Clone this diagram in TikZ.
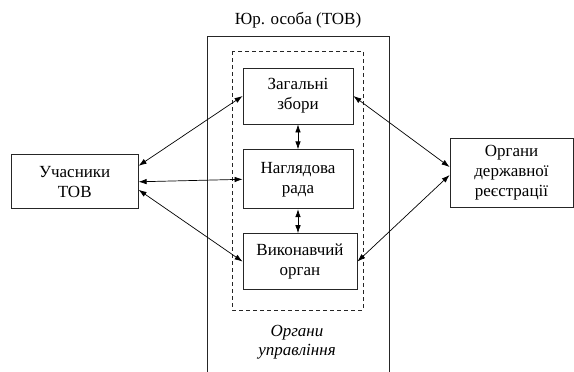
\documentclass[tikz,border=0pt]{standalone}
\usepackage{fontspec}
\setmainfont{Liberation Serif}
\usetikzlibrary{positioning}
\usetikzlibrary{arrows.meta}
\tikzset{>={Latex[width=5.5pt,length=8pt]}}

\begin{document}
\begin{tikzpicture}[x=1pt, y=-1pt, font=\fontsize{17}{20}\selectfont, box/.style={draw=black!85, line width=0.8pt, align=center, minimum width=110pt, minimum height=57pt, inner sep=2pt}, emptynode/.style={draw=none, fill=none, align=center, inner sep=0pt}, frame/.style={draw=black!85, line width=0.8pt}, dashframe/.style={draw=black!85, line width=0.8pt, dash pattern=on 4pt off 3pt}, link/.style={<->, line width=0.7pt}]
    \useasboundingbox (0,0) rectangle (574,372);

    %Frames
    \draw[frame] (207,372) |- (389,36) -- (389,372);
    \draw[dashframe] (232,51) rectangle (363,310);

    %Nodes
    \node[emptynode](tov_title) at (298,20){Юр. особа (ТОВ)};
    \node[box, minimum height=56pt](zag_zbory) at (298,96){Загальні\\збори};
    \node[box, minimum height=59pt](nagl_rada)[below=25pt of zag_zbory]{Наглядова\\рада};
    \node[box, minimum width=114pt, minimum height=56pt](vyk_organ)[below=24pt of nagl_rada, xshift=2pt]{Виконавчий\\орган};
    \node[box, minimum width=127pt, minimum height=54pt](uchasnyky)[left=104pt of nagl_rada, yshift=-2.5pt]{Учасники\\ТОВ};
    \node[box, minimum width=123pt, minimum height=69pt](derzh_reg) at (511.5,172.5){Органи\\державної\\реєстрації};
    \node[emptynode, font=\fontsize{17}{19}\selectfont\itshape](upr_text) at (297,342){Органи\\управління};

    %Lines
    \draw[link] ([yshift=16pt]uchasnyky.east) -- (zag_zbory.west);
    \draw[link] (uchasnyky.east) -- (nagl_rada.west);
    \draw[link] ([yshift=-8pt]uchasnyky.east) -- (vyk_organ.west);
    \draw[link] (zag_zbory.south) -- (nagl_rada.north);
    \draw[link] (nagl_rada.south) -- (nagl_rada.south |- vyk_organ.north);
    \draw[link] (zag_zbory.east) -- ([yshift=5.5pt]derzh_reg.west);
    \draw[link] (vyk_organ.east) -- ([yshift=-2.5pt]derzh_reg.west);

\end{tikzpicture}
\end{document}
